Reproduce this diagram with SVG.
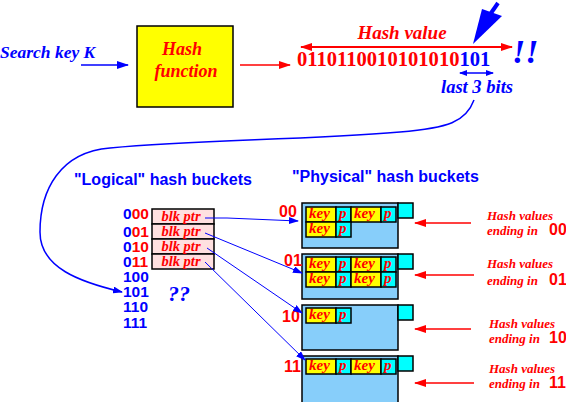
<svg xmlns="http://www.w3.org/2000/svg" width="566" height="402" viewBox="0 0 566 402">
<defs>
<style>
.ser{font-family:"Liberation Serif","Times New Roman",serif;font-weight:bold;font-style:italic}
.sans{font-family:"Liberation Sans",Arial,sans-serif;font-weight:bold}
.red{fill:#ff0000}
.blue{fill:#0000ff}
.cell{stroke:#000;stroke-width:1.5}
.key{fill:#ffff00}
.p{fill:#00ffff}
.bucket{fill:#87cefa;stroke:#000;stroke-width:1.5}
.ptr{stroke:#0000ff;stroke-width:1;fill:none}
</style>
<marker id="ab" markerWidth="12" markerHeight="8" refX="11" refY="4" orient="auto" markerUnits="userSpaceOnUse"><path d="M0,0 L12,4 L0,8 Z" fill="#0000ff"/></marker>
<marker id="ar" markerWidth="12" markerHeight="8" refX="11" refY="4" orient="auto" markerUnits="userSpaceOnUse"><path d="M0,0 L12,4 L0,8 Z" fill="#ff0000"/></marker>
<marker id="ars" markerWidth="12" markerHeight="8" refX="1" refY="4" orient="auto" markerUnits="userSpaceOnUse"><path d="M12,0 L0,4 L12,8 Z" fill="#ff0000"/></marker>
<marker id="abs" markerWidth="8" markerHeight="6" refX="1" refY="3" orient="auto" markerUnits="userSpaceOnUse"><path d="M8,0 L0,3 L8,6 Z" fill="#0000ff"/></marker>
<marker id="abe" markerWidth="8" markerHeight="6" refX="7" refY="3" orient="auto" markerUnits="userSpaceOnUse"><path d="M0,0 L8,3 L0,6 Z" fill="#0000ff"/></marker>
<marker id="abt" markerWidth="10" markerHeight="7" refX="9" refY="3.5" orient="auto" markerUnits="userSpaceOnUse"><path d="M0,0 L10,3.5 L0,7 Z" fill="#0000ff"/></marker>
</defs>

<g id="search-key">
<text class="ser blue" x="0" y="58" font-size="17.5">Search key K</text>
</g>

<g id="hash-function">
<rect x="137" y="26" width="96" height="81" fill="#ffff00" stroke="#000" stroke-width="1.5"/>
<text class="ser red" x="182" y="55" font-size="18" text-anchor="middle">Hash</text>
<text class="ser red" x="186" y="77" font-size="18" text-anchor="middle">function</text>
</g>

<g id="hash-value">
<text class="ser red" x="402" y="39" font-size="19" text-anchor="middle">Hash value</text>
<text x="297" y="66" font-size="20.6" font-family="Liberation Serif, Times New Roman, serif" font-weight="bold"><tspan fill="#ff0000">0110110010101010</tspan><tspan fill="#0000ff">101</tspan></text>
<text class="ser blue" x="477" y="93" font-size="18.5" text-anchor="middle">last 3 bits</text>
<text class="ser blue" x="512" y="63" font-size="34">!!</text>
</g>

<g id="logical-buckets">
<text class="sans blue" x="74" y="185" font-size="16">"Logical" hash buckets</text>
<rect x="152" y="209" width="62" height="15" fill="#ffe0e0" class="cell"/>
<rect x="152" y="224" width="62" height="15" fill="#ffe0e0" class="cell"/>
<rect x="152" y="239" width="62" height="15" fill="#ffe0e0" class="cell"/>
<rect x="152" y="254" width="62" height="15" fill="#ffe0e0" class="cell"/>
<g class="ser red" font-size="14.5" text-anchor="middle">
<text x="181" y="220.5">blk ptr</text>
<text x="181" y="235.5">blk ptr</text>
<text x="181" y="250.5">blk ptr</text>
<text x="181" y="265.5">blk ptr</text>
</g>
<g class="sans" font-size="15.5">
<text x="123" y="219"><tspan fill="#0000ff">0</tspan><tspan fill="#ff0000">00</tspan></text>
<text x="123" y="237"><tspan fill="#0000ff">0</tspan><tspan fill="#ff0000">01</tspan></text>
<text x="123" y="252"><tspan fill="#0000ff">0</tspan><tspan fill="#ff0000">10</tspan></text>
<text x="123" y="267"><tspan fill="#0000ff">0</tspan><tspan fill="#ff0000">11</tspan></text>
<text x="123" y="282" fill="#0000ff">100</text>
<text x="123" y="297" fill="#0000ff">101</text>
<text x="123" y="312" fill="#0000ff">110</text>
<text x="123" y="328" fill="#0000ff">111</text>
</g>
<text class="ser blue" x="168" y="301" font-size="22">??</text>
</g>

<g id="physical-title">
<text class="sans blue" x="292" y="182" font-size="16">"Physical" hash buckets</text>
</g>

<g id="bucket-00">
<rect class="bucket" x="302" y="203" width="96" height="45"/>
<rect x="398" y="203" width="15" height="15" fill="#00ffff" stroke="#000" stroke-width="1.5"/>
<rect class="cell key" x="306" y="207" width="30" height="15"/><rect class="cell p" x="336" y="207" width="15" height="15"/>
<rect class="cell key" x="351" y="207" width="30" height="15"/><rect class="cell p" x="381" y="207" width="15" height="15"/>
<rect class="cell key" x="306" y="222" width="30" height="15"/><rect class="cell p" x="336" y="222" width="15" height="15"/>
<g class="ser red" font-size="15"><text x="309" y="218">key</text><text x="339" y="218">p</text><text x="354" y="218">key</text><text x="384" y="218">p</text><text x="309" y="233">key</text><text x="339" y="233">p</text></g>
<text class="sans red" x="279" y="217" font-size="16">00</text>
</g>

<g id="bucket-01">
<rect class="bucket" x="302" y="254" width="96" height="45"/>
<rect x="398" y="254" width="15" height="15" fill="#00ffff" stroke="#000" stroke-width="1.5"/>
<rect class="cell key" x="306" y="257" width="30" height="15"/><rect class="cell p" x="336" y="257" width="15" height="15"/>
<rect class="cell key" x="351" y="257" width="30" height="15"/><rect class="cell p" x="381" y="257" width="15" height="15"/>
<rect class="cell key" x="306" y="272" width="30" height="15"/><rect class="cell p" x="336" y="272" width="15" height="15"/>
<rect class="cell key" x="351" y="272" width="30" height="15"/><rect class="cell p" x="381" y="272" width="15" height="15"/>
<g class="ser red" font-size="15"><text x="309" y="268">key</text><text x="339" y="268">p</text><text x="354" y="268">key</text><text x="384" y="268">p</text><text x="309" y="283">key</text><text x="339" y="283">p</text><text x="354" y="283">key</text><text x="384" y="283">p</text></g>
<text class="sans red" x="284" y="266" font-size="16">01</text>
</g>

<g id="bucket-10">
<rect class="bucket" x="302" y="305" width="96" height="45"/>
<rect x="398" y="305" width="15" height="15" fill="#00ffff" stroke="#000" stroke-width="1.5"/>
<rect class="cell key" x="306" y="308" width="30" height="15"/><rect class="cell p" x="336" y="308" width="15" height="15"/>
<g class="ser red" font-size="15"><text x="309" y="319">key</text><text x="339" y="319">p</text></g>
<text class="sans red" x="282" y="322" font-size="16">10</text>
</g>

<g id="bucket-11">
<rect class="bucket" x="302" y="356" width="96" height="50"/>
<rect x="398" y="356" width="15" height="15" fill="#00ffff" stroke="#000" stroke-width="1.5"/>
<rect class="cell key" x="306" y="359" width="30" height="15"/><rect class="cell p" x="336" y="359" width="15" height="15"/>
<rect class="cell key" x="351" y="359" width="30" height="15"/><rect class="cell p" x="381" y="359" width="15" height="15"/>
<g class="ser red" font-size="15"><text x="309" y="370">key</text><text x="339" y="370">p</text><text x="354" y="370">key</text><text x="384" y="370">p</text></g>
<text class="sans red" x="284" y="372" font-size="16">11</text>
</g>

<g id="notes">
<g class="ser red" font-size="13">
<text x="487" y="220">Hash values</text><text x="487" y="235">ending in</text>
<text x="487" y="268">Hash values</text><text x="487" y="285">ending in</text>
<text x="489" y="328">Hash values</text><text x="489" y="343">ending in</text>
<text x="489" y="373">Hash values</text><text x="489" y="388">ending in</text>
</g>
<g class="sans red" font-size="16">
<text x="549" y="235">00</text><text x="549" y="285">01</text><text x="549" y="343">10</text><text x="549" y="388">11</text>
</g>
</g>

<g id="connectors">
<line x1="81" y1="65" x2="128" y2="65" stroke="#0000ff" stroke-width="1.5" marker-end="url(#ab)"/>
<line x1="240" y1="65" x2="290" y2="65" stroke="#ff0000" stroke-width="1.5" marker-end="url(#ar)"/>
<line x1="301" y1="47" x2="512" y2="47" stroke="#ff0000" stroke-width="2" marker-start="url(#ars)" marker-end="url(#ar)"/>
<line x1="460" y1="73" x2="493" y2="73" stroke="#0000ff" stroke-width="1.5" marker-start="url(#abs)" marker-end="url(#abe)"/>
<line x1="498" y1="3" x2="489" y2="16" stroke="#0000ff" stroke-width="4"/>
<polygon points="482,9 502,16 473,44" fill="#0000ff"/>
<path d="M474,100 C466,122 448,128 400,132 C300,140 200,140 110,148 C60,152 40,190 40,232 C40,268 80,282 122,292" stroke="#0000ff" stroke-width="1.5" fill="none" marker-end="url(#abt)"/>
<polyline class="ptr" points="205,218 227,218 298,221" marker-end="url(#abt)"/>
<line class="ptr" x1="205" y1="233" x2="302" y2="273" marker-end="url(#abt)"/>
<line class="ptr" x1="207" y1="248" x2="302" y2="313" marker-end="url(#abt)"/>
<line class="ptr" x1="205" y1="262" x2="305" y2="360" marker-end="url(#abt)"/>
<line x1="471" y1="223" x2="415" y2="223" stroke="#ff0000" stroke-width="1.5" marker-end="url(#ar)"/>
<line x1="474" y1="275" x2="415" y2="275" stroke="#ff0000" stroke-width="1.5" marker-end="url(#ar)"/>
<line x1="471" y1="329" x2="415" y2="329" stroke="#ff0000" stroke-width="1.5" marker-end="url(#ar)"/>
<line x1="474" y1="383" x2="415" y2="383" stroke="#ff0000" stroke-width="1.5" marker-end="url(#ar)"/>
</g>
</svg>
